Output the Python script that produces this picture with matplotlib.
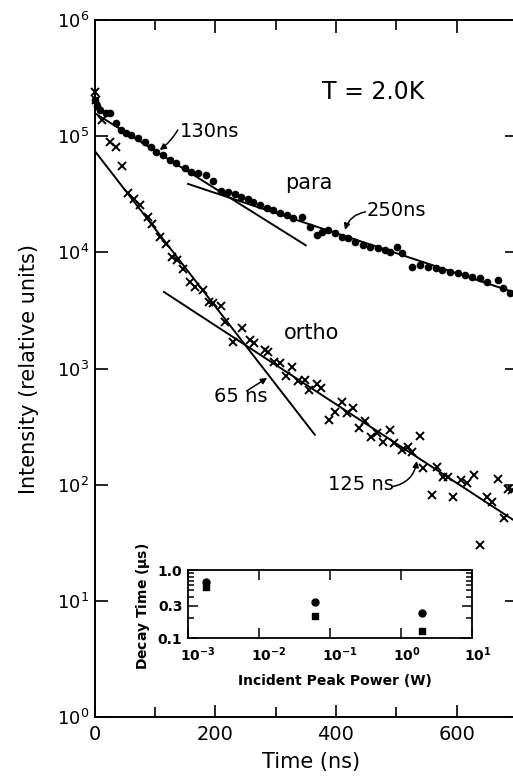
import matplotlib
matplotlib.use("Agg")
import matplotlib.pyplot as plt
from matplotlib.ticker import FixedLocator, NullFormatter, LogLocator, NullLocator, FixedFormatter

plt.rcParams['font.family'] = ['DejaVu Sans']
plt.rcParams['mathtext.fontset'] = 'dejavusans'

# ---- main data (time in ns, intensity in relative units) ----
para_t = [0, 4, 9, 19, 26, 36, 44, 52, 60, 72, 83, 93, 102, 113, 125, 135, 150, 160, 172, 185,
          196, 210, 221, 233, 243, 254, 262, 274, 286, 296, 308, 319, 329, 344, 357, 369, 377, 387,
          398, 410, 420, 431, 445, 456, 469, 481, 489, 501, 510, 526, 540, 553, 565, 576, 589, 603,
          614, 626, 639, 651, 669, 677, 688]
para_I = [2.05e5, 1.82e5, 1.68e5, 1.58e5, 1.58e5, 1.30e5, 1.13e5, 1.06e5, 1.02e5, 9.6e4, 8.9e4,
          8.1e4, 7.3e4, 6.9e4, 6.2e4, 5.9e4, 5.3e4, 4.9e4, 4.8e4, 4.6e4, 4.1e4, 3.4e4, 3.3e4, 3.2e4,
          3.0e4, 2.9e4, 2.7e4, 2.56e4, 2.41e4, 2.32e4, 2.18e4, 2.10e4, 1.98e4, 2.02e4, 1.65e4,
          1.41e4, 1.50e4, 1.56e4, 1.47e4, 1.36e4, 1.33e4, 1.23e4, 1.16e4, 1.11e4, 1.09e4, 1.05e4,
          1.01e4, 1.11e4, 9.9e3, 7.5e3, 7.8e3, 7.5e3, 7.3e3, 7.1e3, 6.8e3, 6.7e3, 6.4e3, 6.1e3,
          6.0e3, 5.6e3, 5.8e3, 4.9e3, 4.5e3]

ortho_t = [0, 2, 12, 25, 35, 45, 55, 65, 76, 88, 96, 108, 118, 129, 136, 146, 158, 167, 179, 189,
           197, 209, 216, 229, 245, 257, 265, 282, 287, 298, 307, 318, 328, 337, 348, 356, 368, 376,
           388, 398, 410, 418, 428, 438, 448, 458, 468, 478, 489, 497, 509, 519, 526, 539, 545, 559,
           567, 577, 585, 594, 608, 617, 628, 638, 650, 658, 668, 678, 685, 691]
ortho_I = [2.4e5, 2.05e5, 1.38e5, 8.9e4, 8.1e4, 5.5e4, 3.24e4, 2.88e4, 2.56e4, 2.02e4, 1.75e4,
           1.36e4, 1.18e4, 9.1e3, 8.6e3, 7.2e3, 5.6e3, 5.0e3, 4.7e3, 3.74e3, 3.66e3, 3.46e3, 2.52e3,
           1.69e3, 2.23e3, 1.76e3, 1.66e3, 1.45e3, 1.39e3, 1.14e3, 1.12e3, 863, 1030, 781, 798, 655,
           737, 680, 361, 423, 516, 415, 458, 308, 354, 258, 279, 233, 296, 229, 199, 211, 191, 263,
           139, 82, 142, 117, 117, 78, 110, 104, 121, 30, 78, 71, 112, 52, 92, 90]

# fitted exponential lines (end points)
para_fast_t = [0, 350]
para_fast_I = [1.585e5, 1.15e4]
para_slow_t = [155, 700]
para_slow_I = [3.88e4, 4.44e3]
ortho_fast_t = [0, 365]
ortho_fast_I = [7.5e4, 269]
ortho_slow_t = [115, 700]
ortho_slow_I = [4.56e3, 47.4]

# inset data
power_W = [1.8e-3, 6.2e-2, 2.0]
tau_para_us = [0.67, 0.34, 0.235]
tau_ortho_us = [0.56, 0.21, 0.127]
inset_xticks = [1e-3, 1e-2, 1e-1, 1, 10]
inset_xlabels = ['$\\mathbf{10^{-3}}$', '$\\mathbf{10^{-2}}$', '$\\mathbf{10^{-1}}$',
                 '$\\mathbf{10^{0}}$', '$\\mathbf{10^{1}}$']

# ---- figure ----
W, H = 513, 776
fig = plt.figure(figsize=(W / 100, H / 100), dpi=100)
ax = fig.add_axes([94.5 / W, 59 / H, (517 - 94.5) / W, 697 / H])

ax.set_yscale('log')
ax.set_xlim(0, 700)
ax.set_ylim(1, 1e6)

ax.plot(para_t, para_I, 'o', ms=4.5, color='black', mec='black', clip_on=False, zorder=3)
ax.plot(ortho_t, ortho_I, 'x', ms=5.5, mew=1.4, color='black', clip_on=False, zorder=3)
for tt, ii in [(para_fast_t, para_fast_I), (para_slow_t, para_slow_I),
               (ortho_fast_t, ortho_fast_I), (ortho_slow_t, ortho_slow_I)]:
    ax.plot(tt, ii, '-', color='black', lw=1.4, zorder=2)

# ticks
ax.xaxis.set_major_locator(FixedLocator([0, 200, 400, 600]))
ax.xaxis.set_minor_locator(FixedLocator([100, 300, 500]))
ax.xaxis.set_minor_formatter(NullFormatter())
ax.yaxis.set_major_locator(LogLocator(base=10, numticks=10))
ax.yaxis.set_minor_locator(NullLocator())
ax.tick_params(axis='both', which='both', direction='in', top=True, right=True, width=1.2)
ax.tick_params(axis='both', which='major', length=9, labelsize=14, pad=6)
ax.tick_params(axis='x', which='minor', length=7)
ax.tick_params(axis='y', which='major', labelsize=13, pad=4)
for s in ax.spines.values():
    s.set_linewidth(1.4)

ax.set_xlabel('Time (ns)', fontsize=15)
ax.xaxis.set_label_coords(0.512, -0.05)
ax.set_ylabel('Intensity (relative units)', fontsize=15)
ax.yaxis.set_label_coords(-0.131, 0.5)

# annotations
ax.text(461, 2.4e5, 'T = 2.0K', fontsize=17, ha='center', va='center')
ax.text(142, 1.09e5, '130ns', fontsize=14, ha='left', va='center')
ax.text(355, 3.95e4, 'para', fontsize=15, ha='center', va='center')
ax.text(451, 2.27e4, '250ns', fontsize=14, ha='left', va='center')
ax.text(360, 2.02e3, 'ortho', fontsize=15, ha='center', va='center')
ax.text(243, 570, '65 ns', fontsize=14, ha='center', va='center')
ax.text(441, 99.5, '125 ns', fontsize=14, ha='center', va='center')

arrow = dict(arrowstyle='-|>', color='black', lw=1.1, mutation_scale=9, shrinkA=0, shrinkB=0)
ax.annotate('', xy=(108, 7.6e4), xytext=(138, 1.13e5),
            arrowprops=dict(arrow, connectionstyle='arc3,rad=-0.1'))
ax.annotate('', xy=(415, 1.56e4), xytext=(449, 2.23e4),
            arrowprops=dict(arrow, connectionstyle='arc3,rad=0.3'))
ax.annotate('', xy=(286, 830), xytext=(252, 640),
            arrowprops=dict(arrow, connectionstyle='arc3,rad=0'))
ax.annotate('', xy=(534, 160), xytext=(493, 96),
            arrowprops=dict(arrow, connectionstyle='arc3,rad=0.35'))

# ---- inset ----
axi = fig.add_axes([188 / W, (H - 638) / H, 284 / W, 68 / H])
axi.set_xscale('log')
axi.set_yscale('log')
axi.set_xlim(1e-3, 10)
axi.set_ylim(0.1, 1.0)
axi.plot(power_W, tau_para_us, 'o', ms=5, color='black')
axi.plot(power_W, tau_ortho_us, 's', ms=5, color='black')
axi.xaxis.set_major_locator(FixedLocator(inset_xticks))
axi.xaxis.set_minor_locator(NullLocator())
axi.yaxis.set_major_locator(FixedLocator([0.1, 0.3, 1.0]))
axi.yaxis.set_major_formatter(FixedFormatter(['0.1', '0.3', '1.0']))
axi.yaxis.set_minor_locator(FixedLocator([0.2, 0.4, 0.5, 0.6, 0.7, 0.8, 0.9]))
axi.yaxis.set_minor_formatter(NullFormatter())
axi.tick_params(axis='both', which='both', direction='in', top=True, right=True, width=1.1)
axi.tick_params(axis='both', which='major', length=7, labelsize=10, pad=4)
axi.tick_params(axis='x', labelbottom=False)
axi.tick_params(axis='y', which='minor', length=4)
for lab in axi.get_yticklabels():
    lab.set_fontweight('bold')
for xv, lab in zip(inset_xticks, inset_xlabels):
    axi.annotate(lab, xy=(xv, 0), xycoords=axi.get_xaxis_transform(),
                 xytext=(-6, -5), textcoords='offset points', ha='left', va='top', fontsize=10)
for s in axi.spines.values():
    s.set_linewidth(1.3)
axi.set_xlabel('Incident Peak Power (W)', fontsize=10, fontweight='bold')
axi.xaxis.set_label_coords(0.518, -0.53)
axi.set_ylabel('Decay Time ($\\mathbf{\\mu}$s)', fontsize=10, fontweight='bold')
axi.yaxis.set_label_coords(-0.127, 0.47)

fig.savefig('out.png', dpi=100)
